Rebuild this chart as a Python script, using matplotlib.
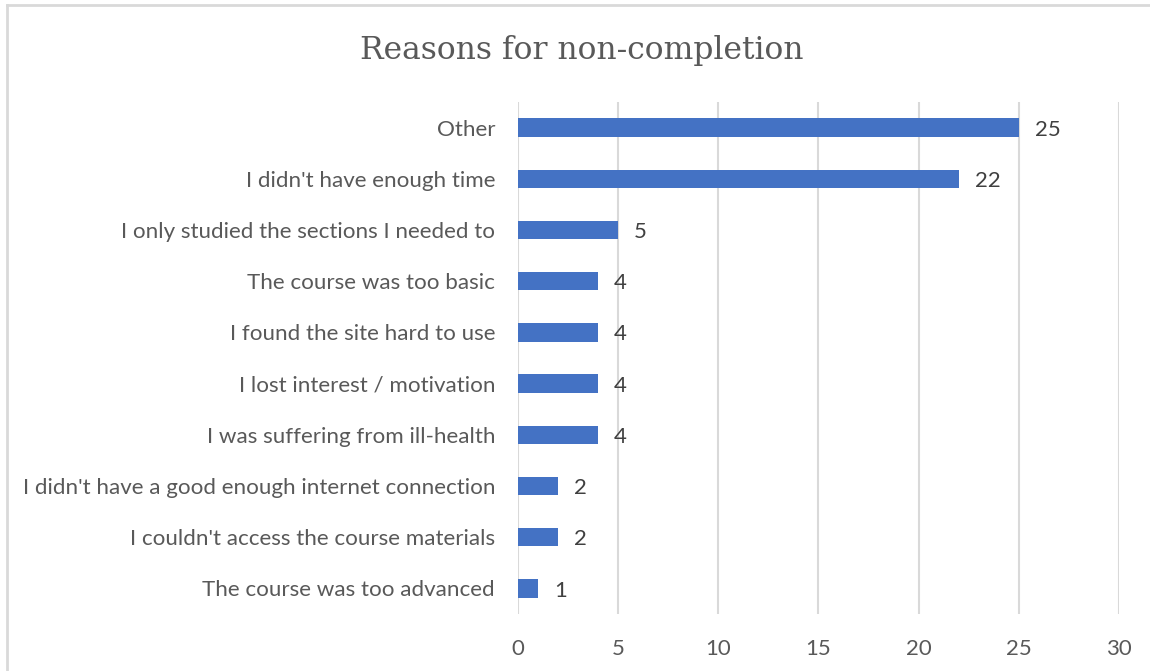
import matplotlib.pyplot as plt
from matplotlib.lines import Line2D

# Survey answers, listed top to bottom as in the chart
reasons = [
    "Other",
    "I didn't have enough time",
    "I only studied the sections I needed to",
    "The course was too basic",
    "I found the site hard to use",
    "I lost interest / motivation",
    "I was suffering from ill-health",
    "I didn't have a good enough internet connection",
    "I couldn't access the course materials",
    "The course was too advanced",
]
counts = [25, 22, 5, 4, 4, 4, 4, 2, 2, 1]
x_ticks = [0, 5, 10, 15, 20, 25, 30]

bar_color = "#4472C4"
text_color = "#595959"
grid_color = "#D9D9D9"

fig = plt.figure(figsize=(11.5, 6.71), dpi=100)
ax = fig.add_axes([0.4504, 0.0849, 0.5226, 0.7631])

ypos = list(range(len(reasons)))
ax.barh(ypos, counts, height=0.36, color=bar_color, zorder=3)
ax.set_ylim(len(reasons) - 0.5, -0.5)
ax.set_xlim(0, 30)

ax.set_xticks(x_ticks)
ax.set_xticklabels([str(t) for t in x_ticks], fontsize=16, color=text_color,
                   family="Lato")
ax.set_yticks(ypos)
ax.set_yticklabels(reasons, fontsize=16.1, color=text_color, family="Lato")
ax.tick_params(axis="both", length=0)
ax.tick_params(axis="x", pad=18)
ax.tick_params(axis="y", pad=16.5)

ax.grid(axis="x", color=grid_color, linewidth=1.5, zorder=0)
for side in ax.spines.values():
    side.set_visible(False)

# value labels next to each bar, sitting slightly low like Excel's
for y, v in zip(ypos, counts):
    ax.annotate(str(v), (v, y), xytext=(11.5, -1.5), textcoords="offset points",
                va="center", ha="left", fontsize=16, color="#404040",
                family="Lato")

fig.text(0.506, 0.925, "Reasons for non-completion", ha="center", va="center",
         fontsize=22.6, color=text_color, family="DejaVu Serif")

# chart frame (only top and left edges visible in the crop)
fig.add_artist(Line2D([7 / 1150, 1.0], [1 - 5 / 671] * 2, transform=fig.transFigure,
                      color=grid_color, linewidth=2))
fig.add_artist(Line2D([7 / 1150] * 2, [0.0, 1 - 5 / 671], transform=fig.transFigure,
                      color=grid_color, linewidth=2))

fig.savefig("out.png", dpi=100)
